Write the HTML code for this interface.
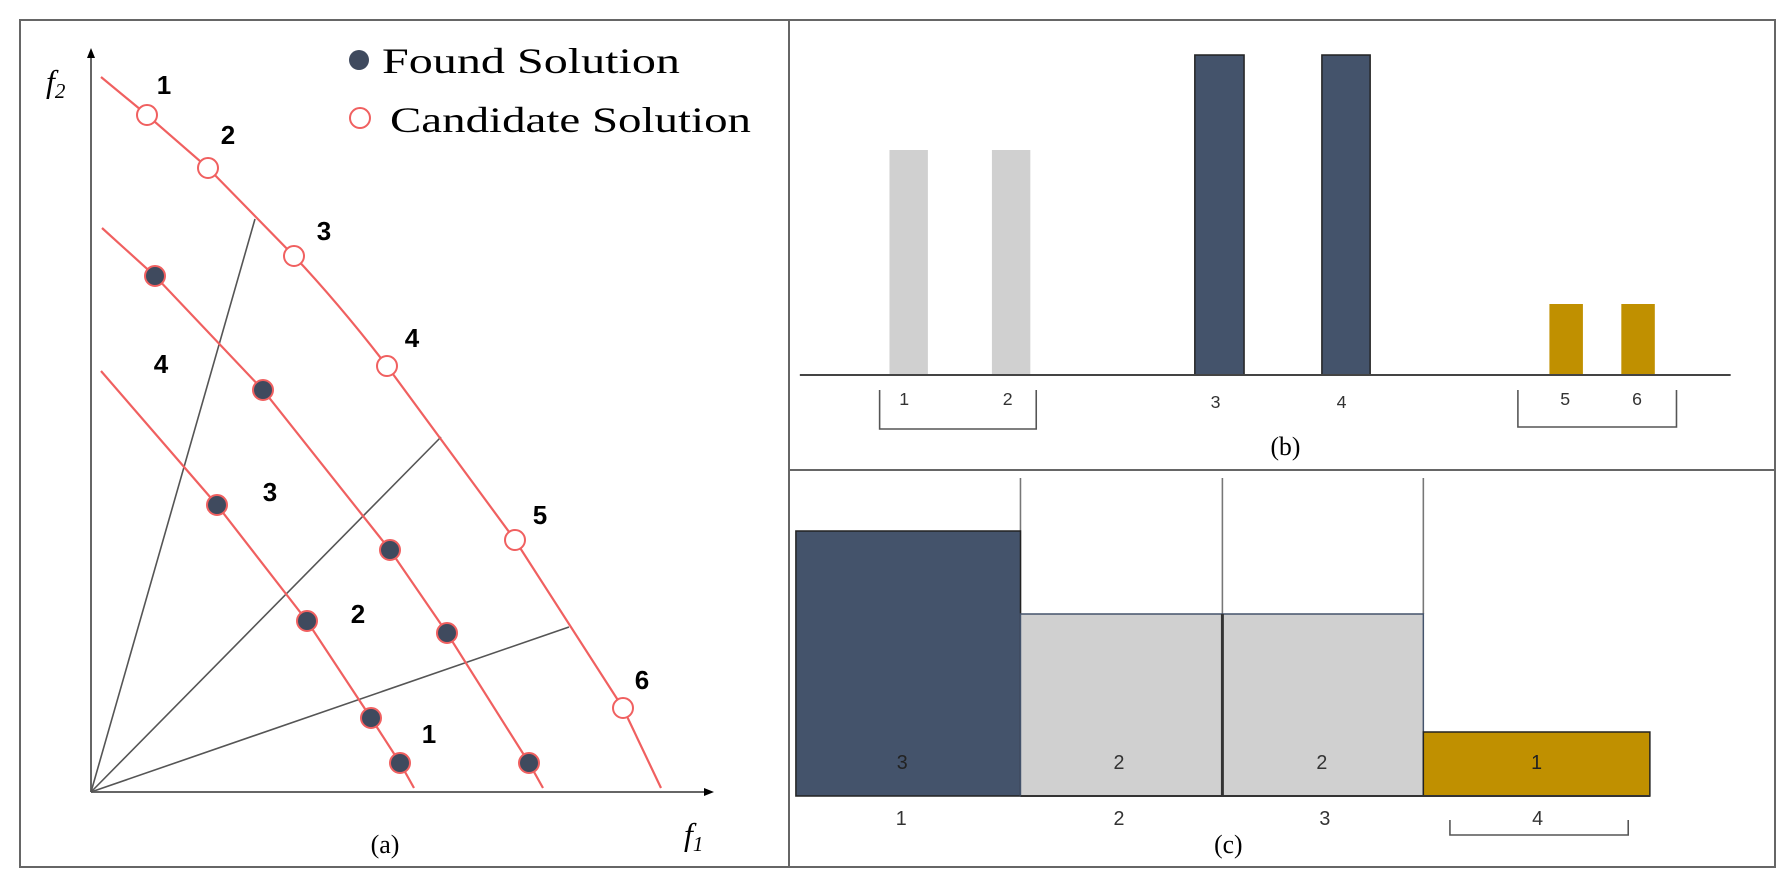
<!DOCTYPE html>
<html><head><meta charset="utf-8"><style>
html,body{margin:0;padding:0;background:#fff}
svg{display:block}
.s{font-family:"Liberation Serif",serif}
.n{font-family:"Liberation Sans",sans-serif;font-weight:bold}
.m{font-family:"Liberation Sans",sans-serif;fill:#333}
</style></head><body>
<svg width="1784" height="888" viewBox="0 0 1784 888" xmlns="http://www.w3.org/2000/svg">
<rect x="20" y="20" width="1755" height="847" fill="#fff" stroke="#666" stroke-width="2"/>
<line x1="789" y1="20" x2="789" y2="867" stroke="#666" stroke-width="2"/>
<line x1="789" y1="470" x2="1775" y2="470" stroke="#666" stroke-width="2"/>
<!-- panel a -->
<line x1="91" y1="792" x2="91" y2="56" stroke="#666" stroke-width="2"/>
<polygon points="91,48 87,58 95,58" fill="#000"/>
<line x1="91" y1="792" x2="706" y2="792" stroke="#666" stroke-width="2"/>
<polygon points="714,792 704,788 704,796" fill="#000"/>
<text x="46" y="92" class="s" font-size="32" font-style="italic">f<tspan font-size="21" dy="6">2</tspan></text>
<text x="684" y="845" class="s" font-size="32" font-style="italic">f<tspan font-size="21" dy="6">1</tspan></text>
<text x="385" y="853" class="s" font-size="26" text-anchor="middle">(a)</text>
<g stroke="#555" stroke-width="1.6">
<line x1="91" y1="792" x2="255" y2="219"/>
<line x1="91" y1="792" x2="441" y2="437"/>
<line x1="91" y1="792" x2="569" y2="627"/>
</g>
<g fill="none" stroke="#f06060" stroke-width="2.2">
<path d="M101,77 L147,115 L208,168 L294,256 Q340,305 387,366 L515,540 L623,708 L661,788"/>
<path d="M102,228 L155,276 L263,390 L390,550 L447,633 L529,763 L543,788"/>
<path d="M101,371 L217,505 L307,621 L371,718 L400,763 L414,788"/>
</g>
<g fill="#fff" stroke="#f06060" stroke-width="2">
<circle cx="147" cy="115" r="10"/><circle cx="208" cy="168" r="10"/><circle cx="294" cy="256" r="10"/>
<circle cx="387" cy="366" r="10"/><circle cx="515" cy="540" r="10"/><circle cx="623" cy="708" r="10"/>
<circle cx="360" cy="118" r="10"/>
</g>
<g fill="#3f4a5e" stroke="#f06060" stroke-width="2">
<circle cx="155" cy="276" r="10"/><circle cx="263" cy="390" r="10"/><circle cx="390" cy="550" r="10"/>
<circle cx="447" cy="633" r="10"/><circle cx="529" cy="763" r="10"/>
<circle cx="217" cy="505" r="10"/><circle cx="307" cy="621" r="10"/><circle cx="371" cy="718" r="10"/><circle cx="400" cy="763" r="10"/>
<circle cx="359" cy="60" r="10" stroke="none"/>
</g>
<text x="382" y="73" class="s" font-size="36" textLength="298" lengthAdjust="spacingAndGlyphs">Found Solution</text>
<text x="390" y="132" class="s" font-size="36" textLength="361" lengthAdjust="spacingAndGlyphs">Candidate Solution</text>
<g class="n" font-size="26" text-anchor="middle">
<text x="164" y="94">1</text><text x="228" y="144">2</text><text x="324" y="240">3</text>
<text x="412" y="347">4</text><text x="540" y="524">5</text><text x="642" y="689">6</text>
<text x="161" y="373">4</text><text x="270" y="501">3</text><text x="358" y="623">2</text><text x="429" y="743">1</text>
</g>
<g transform="translate(789,0) scale(0.985,1) translate(-789,0)">
<!-- panel b -->
<rect x="891" y="150" width="39" height="225" fill="#d0d0d0"/>
<rect x="995" y="150" width="39" height="225" fill="#d0d0d0"/>
<rect x="1201" y="55" width="50" height="320" fill="#44536b" stroke="#222" stroke-width="1.5"/>
<rect x="1330" y="55" width="49" height="320" fill="#44536b" stroke="#222" stroke-width="1.5"/>
<rect x="1561" y="304" width="34" height="71" fill="#c09000"/>
<rect x="1634" y="304" width="34" height="71" fill="#c09000"/>
<line x1="800" y1="375" x2="1745" y2="375" stroke="#444" stroke-width="2"/>
<g class="m" font-size="18" text-anchor="middle">
<text x="906" y="405">1</text><text x="1011" y="405">2</text><text x="1222" y="408">3</text><text x="1350" y="408">4</text>
<text x="1577" y="405">5</text><text x="1650" y="405">6</text>
</g>
<g fill="none" stroke="#555" stroke-width="1.6">
<path d="M881,390 V429 H1040 V390"/>
<path d="M1529,390 V427 H1690 V390"/>
</g>
<text x="1293" y="455" class="s" font-size="26" text-anchor="middle">(b)</text>
<!-- panel c -->
<g stroke="#777" stroke-width="1.6">
<line x1="1024" y1="478" x2="1024" y2="614"/>
<line x1="1229" y1="478" x2="1229" y2="614"/>
<line x1="1433" y1="478" x2="1433" y2="614"/>
</g>
<rect x="796" y="531" width="228" height="265" fill="#44536b" stroke="#222" stroke-width="1.5"/>
<rect x="1024" y="614" width="205" height="182" fill="#d0d0d0" stroke="#44536b" stroke-width="1.5"/>
<rect x="1229" y="614" width="204" height="182" fill="#d0d0d0" stroke="#44536b" stroke-width="1.5"/>
<line x1="1229" y1="614" x2="1229" y2="796" stroke="#333" stroke-width="3"/>
<rect x="1433" y="732" width="230" height="64" fill="#c09000" stroke="#222" stroke-width="1.5"/>
<line x1="1024" y1="796" x2="1663" y2="796" stroke="#333" stroke-width="2"/>
<g class="m" font-size="20" text-anchor="middle">
<text x="904" y="769" fill="#222">3</text><text x="1124" y="769">2</text><text x="1330" y="769">2</text><text x="1548" y="769" fill="#222">1</text>
<text x="903" y="825">1</text><text x="1124" y="825">2</text><text x="1333" y="825">3</text><text x="1549" y="825">4</text>
</g>
<path d="M1460,820 V835 H1641 V820" fill="none" stroke="#555" stroke-width="1.6"/>
<text x="1235" y="853" class="s" font-size="26" text-anchor="middle">(c)</text>
</g>
</svg>
</body></html>
